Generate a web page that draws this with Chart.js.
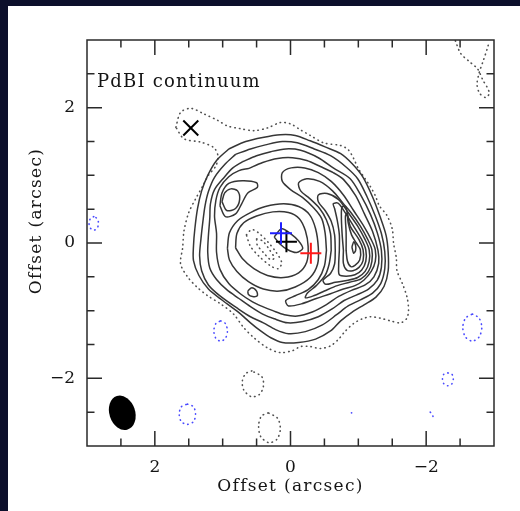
<!DOCTYPE html>
<html>
<head>
<meta charset="utf-8">
<title>PdBI continuum</title>
<script src="https://cdn.jsdelivr.net/npm/chart.js@4.4.1/dist/chart.umd.min.js"></script>
<style>
  html, body { margin: 0; padding: 0; background: #0c0f2b; }
  canvas { display: block; }
</style>
</head>
<body>
<canvas id="map" width="520" height="511"></canvas>
<script>
// Map extent and axis ticks (arcsec offsets; RA offset grows to the left)
const AXIS_MIN = -3;
const AXIS_MAX = 3;
const MAJOR_TICKS = [-2, 0, 2];
const MINOR_TICKS = [-2.5, -1.5, -1, -0.5, 0.5, 1, 1.5, 2.5];

// Positive contours (solid), outermost first
const LEVEL_O1 = [[0.91,1.39],[0.66,1.50],[0.41,1.56],[0.15,1.60],[-0.07,1.59],[-0.29,1.51],[-0.51,1.42],[-0.74,1.32],[-0.91,1.17],[-1.07,0.97],[-1.21,0.68],[-1.32,0.39],[-1.41,0.11],[-1.44,-0.14],[-1.44,-0.41],[-1.38,-0.64],[-1.26,-0.80],[-1.09,-0.91],[-0.91,-1.02],[-0.74,-1.15],[-0.59,-1.30],[-0.37,-1.42],[-0.12,-1.47],[0.12,-1.47],[0.29,-1.40],[0.44,-1.30],[0.59,-1.18],[0.76,-1.03],[1.00,-0.85],[1.21,-0.68],[1.35,-0.48],[1.43,-0.26],[1.43,-0.04],[1.41,0.21],[1.37,0.51],[1.31,0.77],[1.22,1.00],[1.09,1.22]];
const LEVEL_O2 = [[0.81,1.31],[0.59,1.39],[0.37,1.45],[0.12,1.50],[-0.10,1.48],[-0.35,1.39],[-0.59,1.29],[-0.81,1.13],[-0.99,0.95],[-1.13,0.68],[-1.25,0.40],[-1.34,0.14],[-1.39,-0.13],[-1.39,-0.38],[-1.33,-0.60],[-1.21,-0.74],[-1.03,-0.84],[-0.85,-0.93],[-0.68,-1.06],[-0.47,-1.21],[-0.22,-1.31],[0.03,-1.34],[0.22,-1.28],[0.40,-1.18],[0.59,-1.09],[0.79,-0.96],[1.03,-0.79],[1.21,-0.62],[1.31,-0.41],[1.34,-0.19],[1.32,0.06],[1.29,0.33],[1.26,0.55],[1.21,0.76],[1.12,0.97],[0.97,1.16]];
const LEVEL_O3 = [[0.71,1.20],[0.50,1.29],[0.29,1.35],[0.07,1.39],[-0.15,1.37],[-0.41,1.26],[-0.63,1.11],[-0.88,0.95],[-1.04,0.70],[-1.18,0.42],[-1.28,0.15],[-1.34,-0.11],[-1.34,-0.36],[-1.28,-0.55],[-1.15,-0.68],[-0.97,-0.77],[-0.79,-0.85],[-0.62,-0.97],[-0.41,-1.09],[-0.18,-1.16],[0.04,-1.18],[0.24,-1.12],[0.41,-1.05],[0.59,-0.94],[0.76,-0.82],[0.94,-0.69],[1.09,-0.54],[1.19,-0.37],[1.22,-0.14],[1.21,0.11],[1.19,0.36],[1.18,0.58],[1.12,0.79],[0.97,0.98],[0.85,1.11]];
const LEVEL_O4 = [[0.62,1.10],[0.41,1.19],[0.19,1.25],[-0.03,1.26],[-0.24,1.22],[-0.44,1.13],[-0.63,1.04],[-0.78,0.94],[-0.96,0.70],[-1.09,0.43],[-1.21,0.17],[-1.29,-0.11],[-1.30,-0.30],[-1.23,-0.50],[-1.10,-0.62],[-0.90,-0.70],[-0.71,-0.79],[-0.53,-0.91],[-0.32,-1.02],[-0.10,-1.08],[0.09,-1.06],[0.26,-1.00],[0.41,-0.94],[0.56,-0.87],[0.74,-0.75],[0.91,-0.60],[1.04,-0.39],[1.09,-0.14],[1.09,0.14],[1.12,0.40],[1.10,0.63],[1.04,0.82],[0.91,0.98],[0.76,1.07]];

// North-east knot
const KNOT_OUTER = [[1.04,0.55],[1.01,0.74],[0.91,0.88],[0.71,0.92],[0.50,0.89],[0.49,0.82],[0.63,0.74],[0.72,0.58],[0.81,0.43],[0.96,0.39]];
const KNOT_INNER = [[1.01,0.61],[0.97,0.74],[0.88,0.80],[0.78,0.77],[0.75,0.64],[0.81,0.51],[0.94,0.48]];
// South-east knot
const KNOT_SOUTH = [[0.63,-0.71],[0.57,-0.66],[0.50,-0.71],[0.49,-0.78],[0.56,-0.79],[0.62,-0.76]];

// Rings around the central source
const RING_OUTER = [[0.93,-0.08],[0.90,0.15],[0.78,0.33],[0.59,0.45],[0.37,0.54],[0.10,0.58],[-0.12,0.54],[-0.28,0.42],[-0.37,0.21],[-0.41,-0.07],[-0.40,-0.31],[-0.29,-0.51],[-0.07,-0.65],[0.16,-0.71],[0.40,-0.68],[0.62,-0.57],[0.79,-0.42],[0.90,-0.25]];
const RING_INNER = [[0.81,-0.07],[0.79,0.14],[0.69,0.30],[0.50,0.40],[0.26,0.46],[0.03,0.45],[-0.13,0.36],[-0.22,0.18],[-0.26,-0.05],[-0.24,-0.28],[-0.12,-0.44],[0.10,-0.51],[0.34,-0.48],[0.54,-0.38],[0.71,-0.23]];
const CORE = [[0.24,0.09],[0.13,0.21],[0.00,0.14],[-0.12,0.03],[-0.18,-0.08],[-0.09,-0.14],[0.04,-0.10],[0.16,-0.01]];

// Western ridge, outermost to peak
const RIDGE_1 = [[-0.53,-0.11],[-0.51,0.15],[-0.46,0.36],[-0.34,0.52],[-0.18,0.67],[0.00,0.79],[0.12,0.91],[0.12,1.04],[-0.01,1.11],[-0.21,1.11],[-0.41,1.04],[-0.60,0.91],[-0.78,0.71],[-0.93,0.48],[-1.08,0.25],[-1.19,0.05],[-1.25,-0.10],[-1.25,-0.27],[-1.19,-0.42],[-1.08,-0.55],[-0.95,-0.63],[-0.78,-0.68],[-0.59,-0.75],[-0.38,-0.82],[-0.16,-0.90],[0.03,-0.93],[0.07,-0.85],[-0.07,-0.78],[-0.26,-0.69],[-0.41,-0.54],[-0.50,-0.34]];
const RIDGE_2 = [[-0.60,-0.11],[-0.59,0.14],[-0.53,0.34],[-0.43,0.51],[-0.28,0.66],[-0.15,0.77],[-0.12,0.89],[-0.24,0.95],[-0.43,0.91],[-0.62,0.77],[-0.78,0.58],[-0.89,0.45],[-1.03,0.25],[-1.14,0.05],[-1.20,-0.10],[-1.20,-0.27],[-1.15,-0.42],[-1.04,-0.53],[-0.87,-0.58],[-0.69,-0.63],[-0.50,-0.71],[-0.34,-0.78],[-0.22,-0.81],[-0.25,-0.74],[-0.38,-0.63],[-0.51,-0.48],[-0.57,-0.31]];
const RIDGE_3 = [[-0.66,-0.11],[-0.65,0.12],[-0.60,0.32],[-0.51,0.48],[-0.41,0.61],[-0.41,0.71],[-0.54,0.73],[-0.71,0.64],[-0.85,0.45],[-0.99,0.25],[-1.10,0.05],[-1.16,-0.10],[-1.16,-0.27],[-1.10,-0.42],[-0.99,-0.51],[-0.85,-0.55],[-0.66,-0.58],[-0.52,-0.61],[-0.48,-0.55],[-0.59,-0.45],[-0.65,-0.31]];
const RIDGE_4 = [[-0.72,-0.11],[-0.72,0.12],[-0.69,0.33],[-0.65,0.51],[-0.63,0.58],[-0.70,0.59],[-0.76,0.52],[-0.93,0.25],[-1.05,0.05],[-1.11,-0.10],[-1.11,-0.27],[-1.05,-0.40],[-0.95,-0.47],[-0.82,-0.49],[-0.72,-0.47],[-0.71,-0.34]];
const RIDGE_5 = [[-0.78,-0.11],[-0.76,0.15],[-0.75,0.40],[-0.76,0.53],[-0.81,0.54],[-0.84,0.43],[-0.88,0.25],[-1.01,0.05],[-1.07,-0.10],[-1.07,-0.26],[-1.01,-0.36],[-0.92,-0.41],[-0.83,-0.40],[-0.78,-0.30]];
const RIDGE_6 = [[-0.82,-0.11],[-0.82,0.15],[-0.81,0.40],[-0.835,0.44],[-0.85,0.30],[-0.90,0.12],[-0.97,0.00],[-1.03,-0.10],[-1.02,-0.25],[-0.95,-0.33],[-0.89,-0.35],[-0.84,-0.27]];
const RIDGE_PEAK = [[-0.905,-0.06],[-0.935,0.02],[-0.96,-0.04],[-0.96,-0.11],[-0.93,-0.15]];

// Lowest level (dotted)
const LEVEL_LOW = [[1.69,1.71],[1.62,1.93],[1.47,1.99],[1.28,1.91],[1.07,1.81],[0.93,1.73],[0.74,1.69],[0.54,1.66],[0.34,1.70],[0.15,1.78],[0.00,1.76],[-0.15,1.67],[-0.29,1.59],[-0.49,1.48],[-0.74,1.44],[-0.85,1.38],[-0.93,1.25],[-1.00,1.10],[-1.10,0.95],[-1.18,0.83],[-1.25,0.70],[-1.31,0.55],[-1.42,0.41],[-1.50,0.21],[-1.52,-0.01],[-1.56,-0.22],[-1.57,-0.41],[-1.65,-0.60],[-1.72,-0.81],[-1.74,-1.00],[-1.71,-1.12],[-1.62,-1.18],[-1.47,-1.15],[-1.32,-1.11],[-1.18,-1.09],[-1.06,-1.12],[-0.93,-1.19],[-0.81,-1.30],[-0.71,-1.42],[-0.59,-1.52],[-0.44,-1.56],[-0.29,-1.53],[-0.15,-1.53],[-0.03,-1.59],[0.15,-1.62],[0.34,-1.55],[0.54,-1.40],[0.69,-1.25],[0.84,-1.05],[1.03,-0.90],[1.22,-0.78],[1.37,-0.66],[1.51,-0.51],[1.62,-0.31],[1.59,-0.07],[1.57,0.18],[1.50,0.45],[1.40,0.65],[1.29,0.85],[1.21,1.00],[1.10,1.14],[1.07,1.29],[1.13,1.41],[1.32,1.49],[1.57,1.54]];
const HOLE_OUTER = [[0.65,0.12],[0.57,0.20],[0.46,0.14],[0.32,0.00],[0.21,-0.14],[0.13,-0.29],[0.18,-0.38],[0.29,-0.34],[0.46,-0.20],[0.59,-0.05]];
const HOLE_INNER = [[0.50,0.06],[0.41,0.03],[0.31,-0.10],[0.24,-0.22],[0.29,-0.25],[0.40,-0.14],[0.49,-0.03]];
const SOUTH_BLOB_1 = [[0.57,-1.89],[0.66,-1.93],[0.71,-2.04],[0.69,-2.17],[0.58,-2.27],[0.46,-2.24],[0.40,-2.12],[0.42,-1.98]];
const SOUTH_BLOB_2 = [[0.33,-2.51],[0.43,-2.56],[0.47,-2.70],[0.44,-2.86],[0.32,-2.95],[0.20,-2.90],[0.15,-2.75],[0.19,-2.59]];
const NW_CORNER = [[-2.43,2.99],[-2.51,2.80],[-2.65,2.67],[-2.76,2.57],[-2.84,2.40],[-2.90,2.30],[-2.93,2.21],[-2.88,2.15],[-2.79,2.21],[-2.75,2.34],[-2.78,2.51],[-2.84,2.69],[-2.90,2.87],[-2.93,2.98]];

// Negative contours (blue dotted)
const NEG_1 = [[2.90,0.39],[2.95,0.36],[2.97,0.29],[2.95,0.22],[2.90,0.19],[2.85,0.22],[2.83,0.29],[2.85,0.36]];
const NEG_2 = [[1.03,-1.15],[0.96,-1.19],[0.93,-1.30],[0.96,-1.41],[1.03,-1.45],[1.10,-1.41],[1.13,-1.30],[1.10,-1.19]];
const NEG_3 = [[1.52,-2.38],[1.43,-2.42],[1.40,-2.53],[1.43,-2.64],[1.52,-2.68],[1.61,-2.64],[1.64,-2.53],[1.61,-2.42]];
const NEG_4 = [[-2.32,-1.92],[-2.38,-1.94],[-2.40,-2.01],[-2.38,-2.08],[-2.32,-2.11],[-2.26,-2.08],[-2.24,-2.01],[-2.26,-1.94]];
const NEG_5 = [[-2.68,-1.05],[-2.78,-1.11],[-2.82,-1.25],[-2.78,-1.39],[-2.68,-1.45],[-2.58,-1.39],[-2.54,-1.25],[-2.58,-1.11]];
const NEG_ARC = [[-2.06,-2.50],[-2.09,-2.53],[-2.10,-2.57],[-2.08,-2.61]];
const NEG_SPECK = [[-0.90,-2.51]];

// Source positions
const BLUE_CROSS = [0.14, 0.145];
const BLACK_CROSS = [0.06, 0.02];
const RED_CROSS = [-0.30, -0.15];
const NE_SOURCE = [1.47, 1.70];

// Synthesized beam: centre, FWHM major/minor (arcsec), PA (deg E of N)
const BEAM_CENTER = [2.48, -2.51];
const BEAM_AXES = [0.52, 0.38];
const BEAM_PA = 18;

const INK = '#363636';
const DOT_INK = '#505050';
const NEG_INK = '#4a4aff';

const toPts = (pts, closed) => (closed ? pts.concat([pts[0]]) : pts).map(([x, y]) => ({ x, y }));

function contour(pts, color, dotted, closed = true) {
  return {
    data: toPts(pts, closed),
    showLine: true,
    borderColor: color,
    borderWidth: dotted ? 1.6 : 1.5,
    borderDash: dotted ? [0.5, 4.2] : [],
    borderCapStyle: dotted ? 'round' : 'butt',
    borderJoinStyle: 'round',
    pointRadius: 0,
    pointHoverRadius: 0,
    tension: 0.3,
    fill: false,
    order: 2
  };
}

function marker(pos, style, radius, color) {
  return {
    data: [{ x: pos[0], y: pos[1] }],
    showLine: false,
    pointStyle: style,
    pointRadius: radius,
    pointHoverRadius: radius,
    pointBorderWidth: 2,
    borderWidth: 2,
    pointBorderColor: color,
    borderColor: color,
    backgroundColor: color,
    order: 0
  };
}

const solid = [LEVEL_O1, LEVEL_O2, LEVEL_O3, LEVEL_O4, KNOT_OUTER, KNOT_INNER, KNOT_SOUTH,
  RING_OUTER, RING_INNER, CORE, RIDGE_1, RIDGE_2, RIDGE_3, RIDGE_4, RIDGE_5, RIDGE_6, RIDGE_PEAK]
  .map(p => contour(p, INK, false));
const dotted = [LEVEL_LOW, HOLE_OUTER, HOLE_INNER, SOUTH_BLOB_1, SOUTH_BLOB_2]
  .map(p => contour(p, DOT_INK, true));
dotted.push(contour(NW_CORNER, DOT_INK, true, false));
const negative = [NEG_1, NEG_2, NEG_3, NEG_4, NEG_5].map(p => contour(p, NEG_INK, true));
negative.push(contour(NEG_ARC, NEG_INK, true, false));
negative.push({
  data: toPts(NEG_SPECK, false), showLine: false, pointRadius: 0.9,
  backgroundColor: NEG_INK, borderColor: NEG_INK, borderWidth: 0, order: 1
});

const markers = [
  marker(BLUE_CROSS, 'cross', 11, '#1f1fff'),
  marker(BLACK_CROSS, 'cross', 10.5, '#000000'),
  marker(RED_CROSS, 'cross', 10.5, '#ff1a1a'),
  marker(NE_SOURCE, 'crossRot', 10.6, '#000000')
];

const fmt = v => (v < 0 ? '\u2212' + Math.abs(v) : String(v));
const SERIF = "'DejaVu Serif', 'Liberation Serif', serif";

const panel = {
  id: 'panel',
  beforeDraw(chart) {
    const c = chart.ctx;
    c.save();
    c.fillStyle = '#0c0f2b';
    c.fillRect(0, 0, chart.width, chart.height);
    c.fillStyle = '#ffffff';
    c.fillRect(8, 6, chart.width - 8, chart.height - 6);
    c.restore();
  },
  afterDatasetsDraw(chart) {
    // restoring beam, filled ellipse in the lower-left corner
    const c = chart.ctx, xs = chart.scales.x, ys = chart.scales.y;
    const cx = xs.getPixelForValue(BEAM_CENTER[0]);
    const cy = ys.getPixelForValue(BEAM_CENTER[1]);
    const rMinor = Math.abs(xs.getPixelForValue(BEAM_CENTER[0] + BEAM_AXES[1] / 2) - cx);
    const rMajor = Math.abs(ys.getPixelForValue(BEAM_CENTER[1] + BEAM_AXES[0] / 2) - cy);
    c.save();
    c.fillStyle = '#000';
    c.beginPath();
    c.ellipse(cx, cy, rMinor, rMajor, -BEAM_PA * Math.PI / 180, 0, Math.PI * 2);
    c.fill();
    c.restore();
  },
  afterDraw(chart) {
    const c = chart.ctx, a = chart.chartArea, xs = chart.scales.x, ys = chart.scales.y;
    c.save();
    c.strokeStyle = '#2a2a2a';
    c.lineWidth = 1.5;
    c.strokeRect(a.left, a.top, a.right - a.left, a.bottom - a.top);
    const tick = (vals, len) => {
      c.beginPath();
      vals.forEach(v => {
        const px = xs.getPixelForValue(v);
        c.moveTo(px, a.bottom); c.lineTo(px, a.bottom - len);
        c.moveTo(px, a.top); c.lineTo(px, a.top + len);
        const py = ys.getPixelForValue(v);
        c.moveTo(a.left, py); c.lineTo(a.left + len, py);
        c.moveTo(a.right, py); c.lineTo(a.right - len, py);
      });
      c.stroke();
    };
    tick(MINOR_TICKS, 7.5);
    tick(MAJOR_TICKS, 15);

    c.fillStyle = '#151515';
    c.textAlign = 'left';
    c.textBaseline = 'alphabetic';
    c.font = '18px ' + SERIF;
    c.letterSpacing = '1.2px';
    c.fillText('PdBI continuum', a.left + 10, a.top + 47);

    c.font = '17px ' + SERIF;
    c.letterSpacing = '1.3px';
    c.textAlign = 'center';
    c.textBaseline = 'middle';
    c.fillText('Offset (arcsec)', (a.left + a.right) / 2, a.bottom + 41);
    c.translate(a.left - 50, (a.top + a.bottom) / 2 - 22);
    c.rotate(-Math.PI / 2);
    c.fillText('Offset (arcsec)', 0, 0);
    c.restore();
  }
};

const axisTicks = {
  font: { family: SERIF, size: 17 },
  color: '#151515',
  padding: 11,
  maxRotation: 0,
  callback: v => fmt(v)
};

new Chart(document.getElementById('map'), {
  type: 'scatter',
  data: { datasets: markers.concat(solid, dotted, negative) },
  options: {
    responsive: false,
    animation: false,
    events: [],
    layout: { padding: { top: 40, right: 26, left: 0, bottom: 0 } },
    plugins: { legend: { display: false }, tooltip: { enabled: false } },
    scales: {
      x: {
        type: 'linear', min: AXIS_MIN, max: AXIS_MAX, reverse: true,
        grid: { display: false, drawTicks: false },
        border: { display: false },
        ticks: axisTicks,
        afterBuildTicks: s => { s.ticks = MAJOR_TICKS.map(v => ({ value: v })); },
        afterFit: s => { s.height = 65; }
      },
      y: {
        type: 'linear', min: AXIS_MIN, max: AXIS_MAX,
        grid: { display: false, drawTicks: false },
        border: { display: false },
        ticks: Object.assign({}, axisTicks, { padding: 12 }),
        afterBuildTicks: s => { s.ticks = MAJOR_TICKS.map(v => ({ value: v })); },
        afterFit: s => { s.width = 87; }
      }
    }
  },
  plugins: [panel]
});
</script>
</body>
</html>
